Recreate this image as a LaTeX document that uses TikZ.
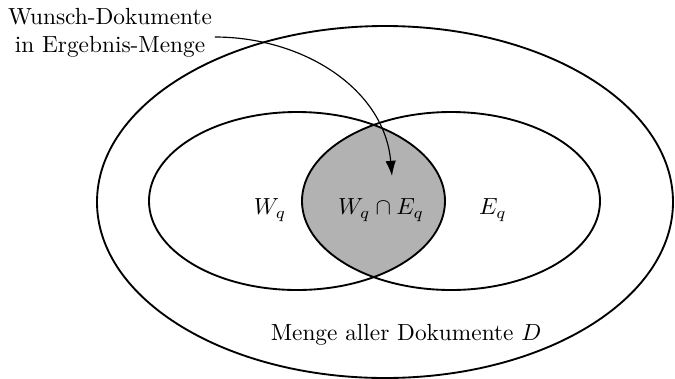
\documentclass[tikz,border=0pt]{standalone}
\usepackage{tikz}
\usetikzlibrary{arrows.meta, positioning}
\usepackage{amsmath, amssymb}

\tikzset{
  menge/.style={draw=black, line width=0.8pt},
  schnitt/.style={fill=black!30}
}

\begin{document}
\begin{tikzpicture}[x=0.4286pt, y=-0.4286pt]
  \useasboundingbox (0,0) rectangle (675,378);

  % Schnittmenge
  \begin{scope}
    \clip (297,201) ellipse (148 and 89);
    \fill[schnitt] (451,201) ellipse (149 and 89);
  \end{scope}

  % Mengen
  \draw[menge] (385,202) ellipse (288 and 176);
  \draw[menge] (297,201) ellipse (148 and 89);
  \draw[menge] (451,201) ellipse (149 and 89);

  \node (wq) at (270,210) {$W_q$};
  \node (wqeq) at (381,210) {$W_q \cap E_q$};
  \node (eq) at (493,210) {$E_q$};
  \node (alle) at (406,335) {Menge aller Dokumente $D$};

  \node[align=center, inner sep=1pt] (wunsch) at (110,33) {Wunsch-Dokumente\\in Ergebnis-Menge};
  \coordinate (ziel) at (392,176);
  \draw[line width=0.5pt, -{Latex[length=6.5pt, width=4.5pt]}] (wunsch.east) ++(0,4) to[out=0, in=95] (ziel);
\end{tikzpicture}
\end{document}
